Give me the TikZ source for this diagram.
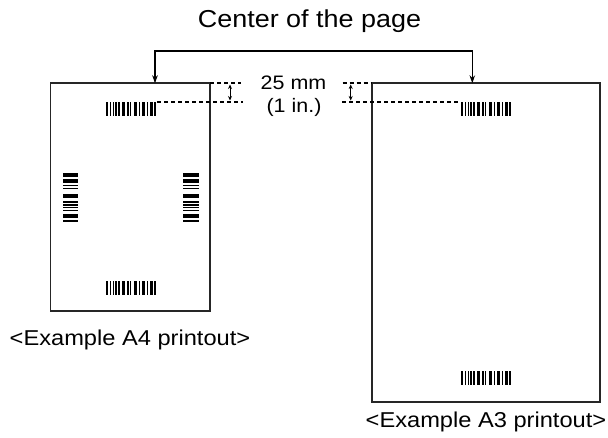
\documentclass[tikz,border=0pt]{standalone}
\usepackage{fontspec}
\setmainfont{Liberation Sans}
\newfontfamily\lab[FakeStretch=1.1]{Liberation Sans}
\usetikzlibrary{arrows.meta}
\newcommand{\hcode}[2]{%
  \foreach \s/\w in {0/2.8,4.3/1.5,7.1/1.5,9.9/1.5,12.7/1.5,16.6/3.3,21.6/1.5,24.4/1.5,28.2/3.3,33.2/1.5,36.2/3.3,41.2/1.5,44/3.3,48.6/1.9}
    \fill (#1+\s,#2) rectangle ++(\w,14);}
\newcommand{\vcode}[2]{%
  \foreach \s/\w in {0/3.9,6.2/4.2,12.3/1.4,15.2/1.4,21.2/4.2,28.7/1.4,31.5/1.4,34.3/1.4,37.1/1.4,41.2/4.2,47.6/1.9}
    \fill (#1,#2+\s) rectangle ++(15.6,\w);}
\tikzset{
  page/.style={draw=black!85, line width=1.6pt, inner sep=0pt, outer sep=0pt},
  guide/.style={line width=2pt, dash pattern=on 4pt off 3pt},
  conn/.style={line width=1.1pt, {Stealth[length=8pt,width=5.5pt]}-{Stealth[length=8pt,width=5.5pt]}},
  dim/.style={line width=1pt, {Stealth[length=4.5pt,width=4pt]}-{Stealth[length=4.5pt,width=4pt]}},
  txt/.style={inner sep=0pt, anchor=base, font=\lab\fontsize{21.5}{25}\selectfont},
  big/.style={inner sep=0pt, anchor=base, font=\lab\fontsize{24.5}{28}\selectfont},
  small/.style={inner sep=0pt, anchor=base, font=\lab\fontsize{19.5}{22}\selectfont}
}
\begin{document}
\begin{tikzpicture}[x=1pt,y=-1pt]
\useasboundingbox (0,0) rectangle (608,438);
% pages
\node[page, minimum width=159.5pt, minimum height=227.7pt] (a4) at (130.25,197.15) {};
\node[page, minimum width=228pt, minimum height=318.7pt] (a3) at (486,242.65) {};
% title and connector
\node[big] (title) at (309.5,28) {Center of the page};
\coordinate (cl) at (155,51);
\coordinate (cr) at (472.3,51);
\draw[conn] (cl |- a4.north) -- (cl) -- (cr) -- (cr |- a3.north);
% barcodes
\hcode{105.5}{101.7}
\hcode{105.5}{281}
\hcode{460.5}{101.7}
\hcode{460.5}{371}
\vcode{62.7}{172.7}
\vcode{183.3}{172.7}
% guide lines
\coordinate (gl1) at (241,83.3);
\coordinate (gl2a) at (157,101.7);
\coordinate (gl2b) at (243,101.7);
\coordinate (gr1) at (342.7,83.3);
\coordinate (gr2a) at (342,101.7);
\coordinate (gr2b) at (460,101.7);
\draw[guide] (a4.north east) -- (gl1);
\draw[guide] (gl2a) -- (gl2b);
\draw[guide] (gr1) -- (a3.north west);
\draw[guide] (gr2a) -- (gr2b);
% dimension arrows
\coordinate (dl1) at (230,84.5);
\coordinate (dl2) at (230,100.5);
\coordinate (dr1) at (350.7,84.5);
\coordinate (dr2) at (350.7,100.5);
\draw[dim] (dl1) -- (dl2);
\draw[dim] (dr1) -- (dr2);
\node[small] (mm) at (293.5,90) {25 mm};
\node[small] (inch) at (294,112.7) {(1 in.)};
% captions
\node[txt] (c4) at (130,345) {<Example A4 printout>};
\node[txt] (c3) at (486,428) {<Example A3 printout>};
\end{tikzpicture}
\end{document}
